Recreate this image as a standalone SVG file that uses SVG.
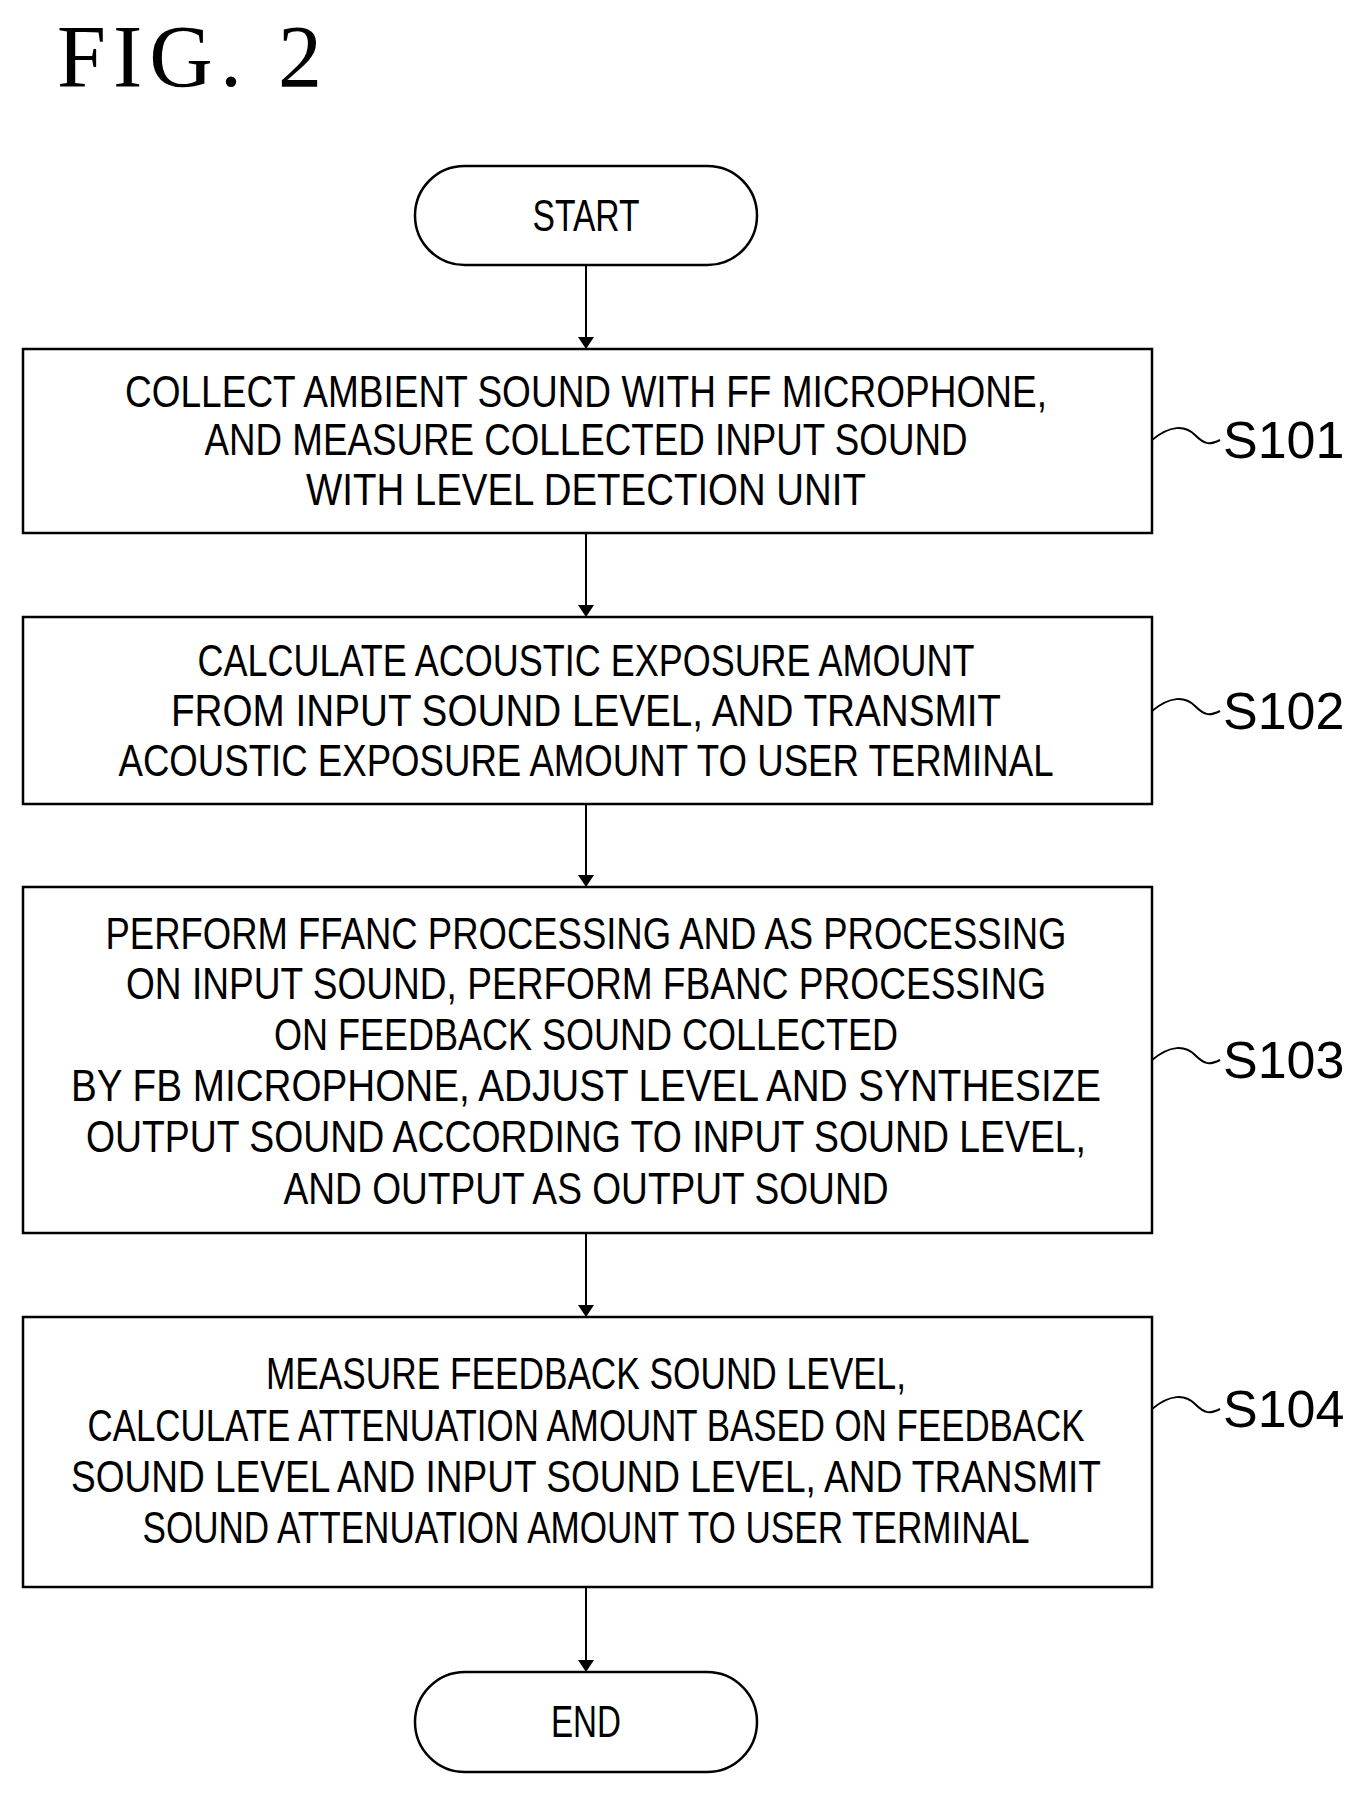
<svg xmlns="http://www.w3.org/2000/svg" width="1360" height="1794" viewBox="0 0 1360 1794">
<style>
.b{fill:#fff;stroke:#000;stroke-width:2.5}
.t{font-family:"Liberation Sans",Arial,sans-serif;font-size:44px;text-anchor:middle;fill:#000}
.s{font-family:"Liberation Sans",Arial,sans-serif;font-size:52px;fill:#000}
.c{stroke:#000;stroke-width:2;fill:none}
</style>
<defs><marker id="a" markerWidth="12" markerHeight="16" refX="10" refY="8" orient="auto" markerUnits="userSpaceOnUse"><path d="M0,0 L12,8 L0,16 Z"/></marker></defs>
<text x="57" y="86" font-family="Liberation Serif,serif" font-size="88" textLength="265" lengthAdjust="spacing">FIG.  2</text>
<g id="start"><rect class="b" x="415" y="166" width="342" height="99" rx="49.5"/><text class="t" x="586" y="231" textLength="107" lengthAdjust="spacingAndGlyphs">START</text></g>
<g id="s101"><rect class="b" x="23" y="349" width="1129" height="184"/>
<text class="t" x="586" y="407" textLength="922" lengthAdjust="spacingAndGlyphs">COLLECT  AMBIENT  SOUND  WITH  FF  MICROPHONE,</text>
<text class="t" x="586" y="455" textLength="763" lengthAdjust="spacingAndGlyphs">AND  MEASURE  COLLECTED  INPUT  SOUND</text>
<text class="t" x="586" y="505" textLength="560" lengthAdjust="spacingAndGlyphs">WITH  LEVEL  DETECTION  UNIT</text>
<text class="s" x="1223" y="458">S101</text></g>
<g id="s102"><rect class="b" x="23" y="617" width="1129" height="187"/>
<text class="t" x="586" y="676" textLength="777" lengthAdjust="spacingAndGlyphs">CALCULATE  ACOUSTIC  EXPOSURE  AMOUNT</text>
<text class="t" x="586" y="726" textLength="830" lengthAdjust="spacingAndGlyphs">FROM  INPUT  SOUND  LEVEL,  AND  TRANSMIT</text>
<text class="t" x="586" y="776" textLength="935" lengthAdjust="spacingAndGlyphs">ACOUSTIC  EXPOSURE  AMOUNT  TO  USER  TERMINAL</text>
<text class="s" x="1223" y="729">S102</text></g>
<g id="s103"><rect class="b" x="23" y="887" width="1129" height="346"/>
<text class="t" x="586" y="949" textLength="961" lengthAdjust="spacingAndGlyphs">PERFORM  FFANC  PROCESSING  AND  AS  PROCESSING</text>
<text class="t" x="586" y="999" textLength="920" lengthAdjust="spacingAndGlyphs">ON  INPUT  SOUND,  PERFORM  FBANC  PROCESSING</text>
<text class="t" x="586" y="1050" textLength="624" lengthAdjust="spacingAndGlyphs">ON  FEEDBACK  SOUND  COLLECTED</text>
<text class="t" x="586" y="1101" textLength="1030" lengthAdjust="spacingAndGlyphs">BY  FB  MICROPHONE,  ADJUST  LEVEL  AND  SYNTHESIZE</text>
<text class="t" x="586" y="1152" textLength="1000" lengthAdjust="spacingAndGlyphs">OUTPUT  SOUND  ACCORDING  TO  INPUT  SOUND  LEVEL,</text>
<text class="t" x="586" y="1204" textLength="605" lengthAdjust="spacingAndGlyphs">AND  OUTPUT  AS  OUTPUT  SOUND</text>
<text class="s" x="1223" y="1078">S103</text></g>
<g id="s104"><rect class="b" x="23" y="1317" width="1129" height="270"/>
<text class="t" x="586" y="1389" textLength="640" lengthAdjust="spacingAndGlyphs">MEASURE  FEEDBACK  SOUND  LEVEL,</text>
<text class="t" x="586" y="1441" textLength="997" lengthAdjust="spacingAndGlyphs">CALCULATE  ATTENUATION  AMOUNT  BASED  ON  FEEDBACK</text>
<text class="t" x="586" y="1492" textLength="1030" lengthAdjust="spacingAndGlyphs">SOUND  LEVEL  AND  INPUT  SOUND  LEVEL,  AND  TRANSMIT</text>
<text class="t" x="586" y="1543" textLength="887" lengthAdjust="spacingAndGlyphs">SOUND  ATTENUATION  AMOUNT  TO  USER  TERMINAL</text>
<text class="s" x="1223" y="1427">S104</text></g>
<g id="end"><rect class="b" x="415" y="1672" width="342" height="100" rx="50"/><text class="t" x="586" y="1737" textLength="70" lengthAdjust="spacingAndGlyphs">END</text></g>
<g id="connectors">
<path class="c" marker-end="url(#a)" d="M586,265 V347"/>
<path class="c" marker-end="url(#a)" d="M586,533 V615"/>
<path class="c" marker-end="url(#a)" d="M586,804 V885"/>
<path class="c" marker-end="url(#a)" d="M586,1233 V1315"/>
<path class="c" marker-end="url(#a)" d="M586,1587 V1670"/>
<path class="c" d="M1152,440 C1170,425 1185,425 1195,435 S1210,445 1220,440"/>
<path class="c" d="M1152,711 C1170,696 1185,696 1195,706 S1210,716 1220,711"/>
<path class="c" d="M1152,1060 C1170,1045 1185,1045 1195,1055 S1210,1065 1220,1060"/>
<path class="c" d="M1152,1409 C1170,1394 1185,1394 1195,1404 S1210,1414 1220,1409"/>
</g>
</svg>
